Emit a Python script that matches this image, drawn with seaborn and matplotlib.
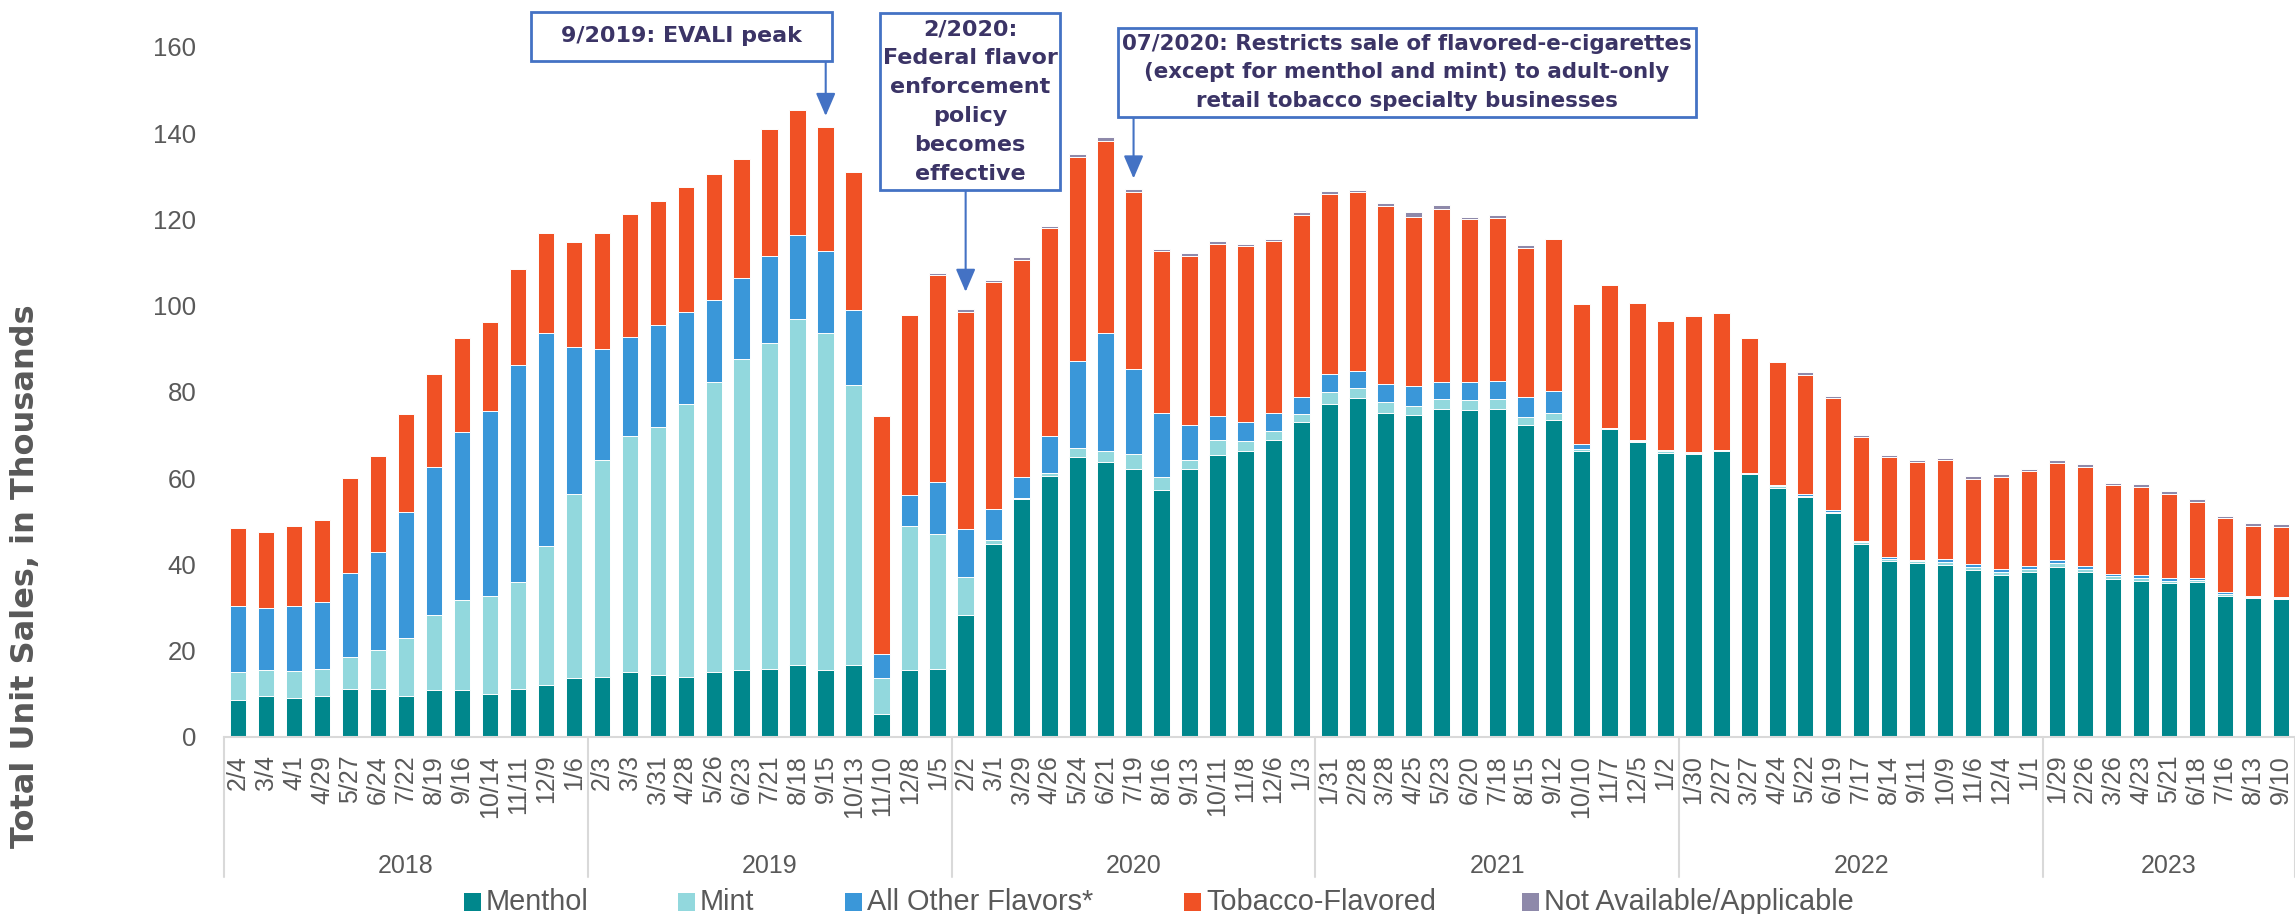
import matplotlib
matplotlib.use("Agg")
import matplotlib.pyplot as plt
from matplotlib.patches import Rectangle
from matplotlib.lines import Line2D
from matplotlib.transforms import blended_transform_factory
import numpy as np
import pandas as pd
import seaborn as sns

# Four-week period end dates, grouped by year on the category axis
weeks_2018 = ["2/4", "3/4", "4/1", "4/29", "5/27", "6/24", "7/22", "8/19", "9/16", "10/14", "11/11", "12/9", "1/6"]
weeks_2019 = ["2/3", "3/3", "3/31", "4/28", "5/26", "6/23", "7/21", "8/18", "9/15", "10/13", "11/10", "12/8", "1/5"]
weeks_2020 = ["2/2", "3/1", "3/29", "4/26", "5/24", "6/21", "7/19", "8/16", "9/13", "10/11", "11/8", "12/6", "1/3"]
weeks_2021 = ["1/31", "2/28", "3/28", "4/25", "5/23", "6/20", "7/18", "8/15", "9/12", "10/10", "11/7", "12/5", "1/2"]
weeks_2022 = ["1/30", "2/27", "3/27", "4/24", "5/22", "6/19", "7/17", "8/14", "9/11", "10/9", "11/6", "12/4", "1/1"]
weeks_2023 = ["1/29", "2/26", "3/26", "4/23", "5/21", "6/18", "7/16", "8/13", "9/10"]
years = ["2018", "2019", "2020", "2021", "2022", "2023"]

# Unit sales (thousands) by flavor
menthol = [8.4, 9.4, 9.0, 9.4, 11.1, 11.1, 9.4, 10.8, 10.8, 10.0, 11.0, 11.9, 13.6,
           13.9, 15.1, 14.3, 13.9, 14.9, 15.4, 15.8, 16.7, 15.4, 16.6, 5.3, 15.4, 15.8,
           28.2, 44.6, 55.1, 60.5, 64.9, 63.8, 62.0, 57.3, 62.1, 65.3, 66.3, 68.9, 72.9,
           77.2, 78.5, 75.2, 74.6, 76.0, 75.7, 76.0, 72.2, 73.4, 66.2, 71.4, 68.4, 65.9,
           65.6, 66.3, 60.9, 57.8, 55.5, 51.8, 44.7, 40.8, 40.3, 39.9, 38.7, 37.5, 38.3,
           39.4, 38.2, 36.6, 36.2, 35.7, 36.0, 32.7, 32.2, 31.9]
mint = [6.5, 6.1, 6.3, 6.2, 7.3, 9.1, 13.5, 17.4, 21.0, 22.6, 24.9, 32.3, 42.7,
        50.3, 54.6, 57.6, 63.2, 67.5, 72.2, 75.5, 80.1, 78.2, 64.9, 8.3, 33.4, 31.2,
        8.8, 1.0, 0.3, 0.7, 2.0, 2.5, 3.5, 2.9, 2.1, 3.5, 2.2, 2.1, 2.0,
        2.7, 2.5, 2.4, 2.1, 2.3, 2.3, 2.4, 2.0, 1.7, 0.5, 0.1, 0.2, 0.3,
        0.3, 0.1, 0.1, 0.3, 0.3, 0.4, 0.4, 0.4, 0.4, 0.6, 0.7, 0.6, 0.6,
        0.8, 0.6, 0.6, 0.7, 0.5, 0.4, 0.4, 0.3, 0.3]
other_flavors = [15.5, 14.3, 15.0, 15.7, 19.6, 22.7, 29.3, 34.3, 38.9, 43.0, 50.4, 49.5, 34.0,
                 25.7, 23.0, 23.6, 21.5, 19.0, 18.9, 20.3, 19.5, 19.0, 17.4, 5.7, 7.3, 12.0,
                 11.2, 7.2, 4.8, 8.5, 20.3, 27.4, 19.8, 14.8, 8.0, 5.5, 4.4, 4.0, 4.0,
                 4.2, 3.9, 4.3, 4.6, 4.1, 4.2, 4.1, 4.5, 5.0, 1.1, 0.2, 0.2, 0.2,
                 0.1, 0.1, 0.2, 0.3, 0.5, 0.3, 0.4, 0.4, 0.4, 0.7, 0.6, 0.7, 0.8,
                 0.7, 0.7, 0.5, 0.6, 0.6, 0.4, 0.4, 0.2, 0.1]
tobacco = [18.1, 17.6, 18.6, 18.9, 21.9, 22.3, 22.6, 21.7, 21.7, 20.5, 22.3, 23.1, 24.5,
           27.0, 28.5, 28.7, 29.0, 29.1, 27.6, 29.3, 29.0, 28.9, 32.2, 55.0, 41.7, 48.0,
           50.4, 52.6, 50.5, 48.4, 47.2, 44.4, 41.1, 37.6, 39.4, 40.1, 41.0, 39.9, 42.2,
           41.9, 41.5, 41.2, 39.3, 40.0, 37.8, 37.9, 34.7, 35.3, 32.5, 33.1, 31.8, 30.1,
           31.7, 31.7, 31.2, 28.5, 27.7, 26.0, 24.1, 23.3, 22.7, 22.9, 19.8, 21.5, 21.9,
           22.6, 23.1, 20.6, 20.5, 19.5, 17.7, 17.2, 16.2, 16.4]
not_available = [0.0, 0.0, 0.0, 0.0, 0.0, 0.0, 0.0, 0.0, 0.0, 0.0, 0.0, 0.0, 0.0,
                 0.0, 0.0, 0.0, 0.0, 0.0, 0.0, 0.0, 0.0, 0.0, 0.0, 0.0, 0.0, 0.5,
                 0.6, 0.6, 0.5, 0.4, 0.7, 1.0, 0.6, 0.5, 0.5, 0.5, 0.5, 0.5, 0.6,
                 0.6, 0.5, 0.7, 1.1, 0.9, 0.5, 0.6, 0.7, 0.1, 0.1, 0.1, 0.1, 0.1,
                 0.1, 0.1, 0.1, 0.1, 0.6, 0.5, 0.5, 0.5, 0.5, 0.6, 0.7, 0.6, 0.5,
                 0.6, 0.6, 0.6, 0.6, 0.6, 0.6, 0.6, 0.6, 0.6]

series_names = ["Menthol", "Mint", "All Other Flavors*", "Tobacco-Flavored", "Not Available/Applicable"]
series_colors = ["#00878C", "#92D8DD", "#3A97D9", "#F05125", "#8E89AA"]

year_groups = [weeks_2018, weeks_2019, weeks_2020, weeks_2021, weeks_2022, weeks_2023]
rows = []
for yr, wk in zip(years, year_groups):
    for w in wk:
        rows.append({"period": f"{yr} {w}", "year": yr, "label": w})
df = pd.DataFrame(rows)
df["Menthol"] = menthol
df["Mint"] = mint
df["All Other Flavors*"] = other_flavors
df["Tobacco-Flavored"] = tobacco
df["Not Available/Applicable"] = not_available
stack = df[series_names].cumsum(axis=1)
totals = stack[series_names[-1]].to_numpy()

sns.set_theme(style="white")
plt.rcParams["font.family"] = ["Liberation Sans", "DejaVu Sans"]
grey = "#595959"
ink = "#3B3466"
frame_blue = "#4472C4"

W, H = 2295, 914
fig = plt.figure(figsize=(W / 100, H / 100), dpi=100)
ax_left, ax_bottom_px, ax_top_px = 224, 736.7, 47.0
ax = fig.add_axes([ax_left / W, 1 - ax_bottom_px / H, 1 - ax_left / W, (ax_bottom_px - ax_top_px) / H])

# Stacked bars: draw cumulative heights from the top layer down
for name, color in reversed(list(zip(series_names, series_colors))):
    sns.barplot(x=df["period"], y=stack[name], color=color, saturation=1,
                width=0.59, errorbar=None, edgecolor="white", linewidth=0.7, ax=ax)

n = len(df)
ax.set_xlim(-0.5, n - 0.5)
ax.set_ylim(0, 160)
ax.set_yticks(range(0, 161, 20))
ax.tick_params(axis="y", length=0, pad=20, labelsize=18.5, labelcolor=grey)
ax.set_xticks(range(n))
ax.set_xticklabels(df["label"], rotation=90, va="top", ha="center")
ax.tick_params(axis="x", length=0, pad=13, labelsize=18, labelcolor=grey)
ax.set_xlabel("")
ax.set_ylabel("")
for s in ["left", "top", "right"]:
    ax.spines[s].set_visible(False)
ax.spines["bottom"].set_color("#D9D9D9")
ax.spines["bottom"].set_linewidth(1.5)
ax.grid(False)

# Year grouping on the category axis
axes_h = ax_bottom_px - ax_top_px
trans = blended_transform_factory(ax.transData, ax.transAxes)
sep_bottom = -(877 - ax_bottom_px) / axes_h
year_y = -(866 - ax_bottom_px) / axes_h
start = 0
for yr, wk in zip(years, year_groups):
    end = start + len(wk)
    ax.add_line(Line2D([start - 0.5, start - 0.5], [0, sep_bottom], transform=trans,
                       color="#D9D9D9", lw=1.5, clip_on=False))
    ax.text((start + end - 1) / 2, year_y, yr, transform=trans, ha="center", va="center",
            fontsize=18, color=grey, clip_on=False)
    start = end
ax.add_line(Line2D([n - 0.5, n - 0.5], [0, sep_bottom], transform=trans,
                   color="#D9D9D9", lw=1.5, clip_on=False))

fig.text(26 / W, 1 - 576 / H, "Total Unit Sales, in Thousands", rotation=90,
         ha="center", va="center", fontsize=23, fontweight="bold", color=grey,
         family="DejaVu Sans")

# Policy annotations: framed notes with arrows to the relevant period
notes = [
    ("9/2019: EVALI peak", (531, 12, 832, 61), 21, 2.5, 16),
    ("2/2020:\nFederal flavor\nenforcement\npolicy\nbecomes\neffective", (880, 13, 1060, 190), 26, 4.0, 16),
    ("07/2020: Restricts sale of flavored-e-cigarettes\n(except for menthol and mint) to adult-only\nretail tobacco specialty businesses",
     (1118, 28, 1696, 117), 32, 2.5, 15.4),
]
arrow_trans = blended_transform_factory(ax.transData, fig.transFigure)
for text, (x0, y0, x1, y1), idx, gap, fs in notes:
    fig.patches.append(Rectangle((x0 / W, 1 - y1 / H), (x1 - x0) / W, (y1 - y0) / H,
                                 transform=fig.transFigure, facecolor="white",
                                 edgecolor=frame_blue, linewidth=2, zorder=5))
    fig.text((x0 + x1) / 2 / W, 1 - (y0 + y1) / 2 / H, text, ha="center", va="center",
             multialignment="center", fontsize=fs, fontweight="bold", color=ink,
             family="DejaVu Sans", linespacing=1.55, zorder=6)
    ax.annotate("", xy=(idx, totals[idx] + gap), xycoords="data",
                xytext=(idx, 1 - y1 / H), textcoords=arrow_trans,
                arrowprops=dict(arrowstyle="-|>,head_length=0.7,head_width=0.3",
                                mutation_scale=20, color=frame_blue, lw=1.5,
                                shrinkA=0, shrinkB=0),
                annotation_clip=False)

# Legend row: colour key squares followed by series names
legend_x = [464, 678, 845, 1184, 1522]
legend_y = 902
for x0, nm, c in zip(legend_x, series_names, series_colors):
    fig.patches.append(Rectangle((x0 / W, 1 - (legend_y + 9) / H), 17 / W, 18 / H,
                                 transform=fig.transFigure, facecolor=c, edgecolor="none"))
    fig.text((x0 + 22) / W, 1 - legend_y / H, nm, ha="left", va="center",
             fontsize=20.8, color=grey)

fig.savefig("out.png", dpi=100)
